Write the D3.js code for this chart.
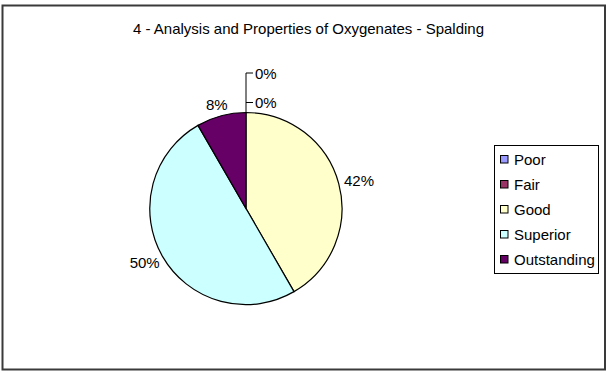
<!DOCTYPE html>
<html>
<head>
<meta charset="utf-8">
<script src="https://cdn.jsdelivr.net/npm/d3@7"></script>
<style>
  html, body { margin: 0; padding: 0; background: #fff; }
  svg { display: block; font-family: "Liberation Sans", Arial, sans-serif; }
</style>
</head>
<body>
<svg id="chart" width="608" height="371"></svg>
<script>
// Ratings for the oxygenates course section
const title = "4 - Analysis and Properties of Oxygenates - Spalding";
const categories = ["Poor", "Fair", "Good", "Superior", "Outstanding"];
const counts = [0, 0, 5, 6, 1];
const colors = ["#9999FF", "#993366", "#FFFFCC", "#CCFFFF", "#660066"];

const svg = d3.select("#chart");
const W = 608, H = 371;
const FS = 15;

// outer frame
svg.append("rect")
  .attr("x", 2.5).attr("y", 5.5)
  .attr("width", W - 5.5).attr("height", H - 7)
  .attr("fill", "#fff")
  .attr("stroke", "#3a3a3a").attr("stroke-width", 2);

svg.append("text")
  .attr("x", 308.5).attr("y", 34)
  .attr("text-anchor", "middle")
  .attr("font-size", FS)
  .attr("fill", "#000")
  .text(title);

const cx = 246, cy = 208.5, r = 96;
const total = d3.sum(counts);
const pie = d3.pie().sort(null).value(d => d)(counts);
const arc = d3.arc().innerRadius(0).outerRadius(r);
const color = d3.scaleOrdinal().domain(categories).range(colors);

const g = svg.append("g").attr("transform", `translate(${cx},${cy})`);

g.selectAll("path.slice")
  .data(pie.filter(d => d.value > 0))
  .join("path")
  .attr("class", "slice")
  .attr("d", arc)
  .attr("fill", d => color(categories[d.index]))
  .attr("stroke", "#000")
  .attr("stroke-width", 1.2);

const fmt = v => Math.round(v / total * 100) + "%";

// labels for non-zero slices, placed just outside the rim
pie.filter(d => d.value > 0).forEach(d => {
  const a = (d.startAngle + d.endAngle) / 2;
  const t = g.append("text")
    .attr("font-size", FS)
    .attr("text-anchor", "middle")
    .attr("dominant-baseline", "central")
    .text(fmt(d.value));
  const w = t.node().getComputedTextLength();
  const h = 12;
  const R = 102;
  const x = R * Math.sin(a) + (w / 2) * Math.sin(a);
  const y = -R * Math.cos(a) - (h / 2) * Math.cos(a);
  t.attr("x", x).attr("y", y);
});

// zero-valued slices: stacked labels with a leader line from the top of the pie
const zeros = pie.filter(d => d.value === 0);
const step = 29.5;
const firstGap = 10;
if (zeros.length) {
  const topY = -r - firstGap - (zeros.length - 1) * step;
  g.append("line")
    .attr("x1", 0).attr("y1", -r).attr("x2", 0).attr("y2", topY)
    .attr("stroke", "#000").attr("stroke-width", 1);
  zeros.forEach((d, i) => {
    const y = -r - firstGap - (zeros.length - 1 - i) * step;
    g.append("line")
      .attr("x1", 0).attr("y1", y).attr("x2", 7).attr("y2", y)
      .attr("stroke", "#000").attr("stroke-width", 1);
    g.append("text")
      .attr("x", 9).attr("y", y)
      .attr("font-size", FS)
      .attr("dominant-baseline", "central")
      .text(fmt(d.value));
  });
}

// legend
const lg = svg.append("g");
lg.append("rect")
  .attr("x", 494.5).attr("y", 145.5)
  .attr("width", 104).attr("height", 128)
  .attr("fill", "#fff").attr("stroke", "#000").attr("stroke-width", 1);

const rowY = d3.scalePoint().domain(categories).range([159, 259]);
categories.forEach(c => {
  const y = rowY(c);
  lg.append("rect")
    .attr("x", 500.5).attr("y", y - 3.5)
    .attr("width", 7.5).attr("height", 7.5)
    .attr("fill", color(c)).attr("stroke", "#000").attr("stroke-width", 1);
  lg.append("text")
    .attr("x", 514).attr("y", y)
    .attr("font-size", FS)
    .attr("dominant-baseline", "central")
    .text(c);
});
</script>
</body>
</html>
